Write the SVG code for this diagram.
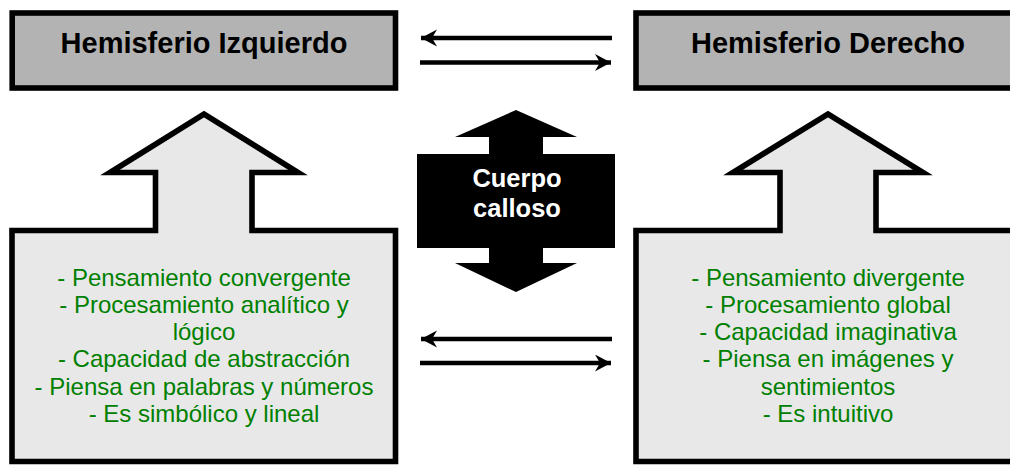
<svg xmlns="http://www.w3.org/2000/svg" width="1010" height="465" viewBox="0 0 1010 465">
<defs>
<style>
.title{fill:#b3b3b3;stroke:#000;stroke-width:5.6}
.call{fill:#e8e8e8;stroke:#000;stroke-width:5.6;stroke-linejoin:miter}
.tt{font-family:"Liberation Sans",Arial,sans-serif;font-weight:bold;font-size:29px;fill:#000;text-anchor:middle}
.gt{font-family:"Liberation Sans",Arial,sans-serif;font-size:24px;fill:#008000;text-anchor:middle}
.wt{font-family:"Liberation Sans",Arial,sans-serif;font-weight:bold;font-size:25.5px;fill:#fff;text-anchor:middle}
.ln{stroke:#000;stroke-width:4.5;fill:none}
</style>
<marker id="ah" markerUnits="userSpaceOnUse" markerWidth="18" markerHeight="18" refX="16" refY="8.5" orient="auto" viewBox="0 0 18 18">
<path d="M0,0 L16,8.5 L0,17 L5,8.5 Z" fill="#000"/>
</marker>
</defs>
<g id="hemisferio-izquierdo">
<rect class="title" x="12.2" y="13" width="383.3" height="75"/>
<text class="tt" x="204" y="53">Hemisferio Izquierdo</text>
</g>
<g id="hemisferio-derecho">
<rect class="title" x="636" y="13" width="400" height="75"/>
<text class="tt" x="828" y="53">Hemisferio Derecho</text>
</g>
<g id="izquierdo-rasgos">
<path class="call" d="M12,230.5 L155.5,230.5 L155.5,172.5 L110,172.5 L204,114 L298,172.5 L252,172.5 L252,230.5 L395.5,230.5 L395.5,461.5 L12,461.5 Z"/>
<text class="gt" x="204" y="285.5">- Pensamiento convergente</text>
<text class="gt" x="204" y="312.8">- Procesamiento analítico y</text>
<text class="gt" x="204" y="340.1">lógico</text>
<text class="gt" x="204" y="367.4">- Capacidad de abstracción</text>
<text class="gt" x="204" y="394.7">- Piensa en palabras y números</text>
<text class="gt" x="204" y="422">- Es simbólico y lineal</text>
</g>
<g id="derecho-rasgos">
<path class="call" d="M636,230.5 L780,230.5 L780,172.5 L733,172.5 L828,114 L923,172.5 L876,172.5 L876,230.5 L1030,230.5 L1030,461.5 L636,461.5 Z"/>
<text class="gt" x="828" y="285.5">- Pensamiento divergente</text>
<text class="gt" x="828" y="312.8">- Procesamiento global</text>
<text class="gt" x="828" y="340.1">- Capacidad imaginativa</text>
<text class="gt" x="828" y="367.4">- Piensa en imágenes y</text>
<text class="gt" x="828" y="394.7">sentimientos</text>
<text class="gt" x="828" y="422">- Es intuitivo</text>
</g>
<g id="cuerpo-calloso">
<path d="M516,110 L577,137 L543,137 L543,154 L615,154 L615,248 L543,248 L543,263 L577,263 L516,292 L455,263 L489,263 L489,248 L417,248 L417,154 L489,154 L489,137 L455,137 Z" fill="#000"/>
<text class="wt" x="517" y="187">Cuerpo</text>
<text class="wt" x="517" y="217">calloso</text>
</g>
<g id="connectors">
<line class="ln" x1="612" y1="38" x2="421" y2="38" marker-end="url(#ah)"/>
<line class="ln" x1="420" y1="62.5" x2="611" y2="62.5" marker-end="url(#ah)"/>
<line class="ln" x1="612" y1="339" x2="421" y2="339" marker-end="url(#ah)"/>
<line class="ln" x1="420" y1="363" x2="611" y2="363" marker-end="url(#ah)"/>
</g>
</svg>
